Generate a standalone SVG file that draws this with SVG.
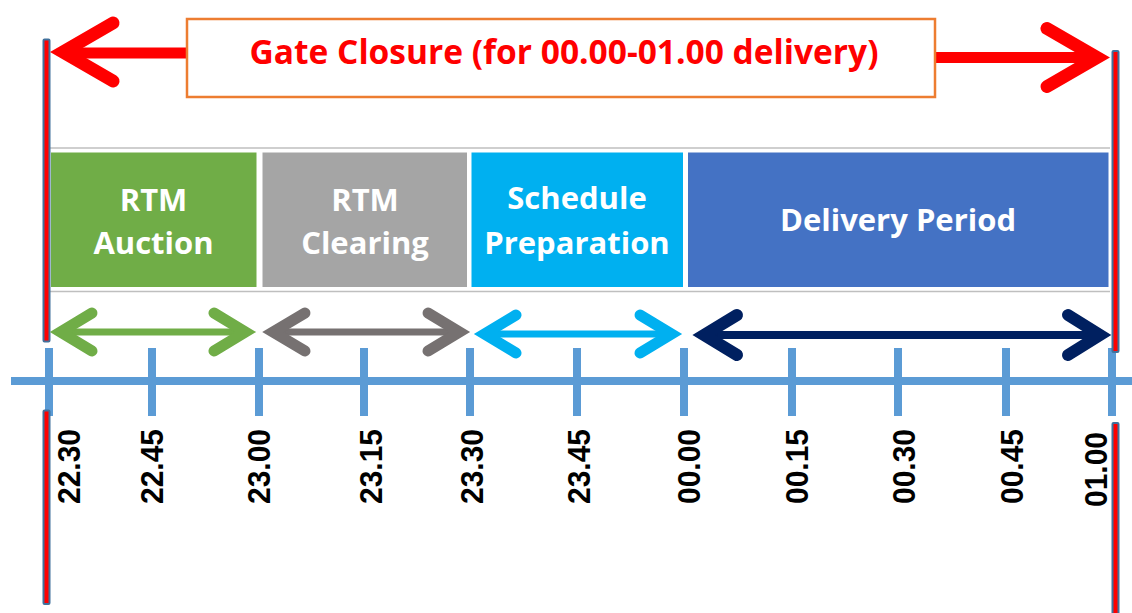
<svg xmlns="http://www.w3.org/2000/svg" width="1132" height="613" viewBox="0 0 1132 613">
  <style>
    .phase { stroke: none; }
    .phase-label { font-family: "Open Sans", "Liberation Sans", sans-serif; font-weight: 700; font-size: 31px; fill: #FFFFFF; text-anchor: middle; }
    .time { font-family: "Liberation Sans", Arial, sans-serif; font-weight: 700; font-size: 32px; fill: #000000; text-anchor: end; }
    .guide { stroke: #BFBFBF; stroke-width: 1.5; }
    .marker-bar { fill: #FF0000; stroke: #41719C; stroke-width: 2; }
    .axis { stroke: #5B9BD5; stroke-width: 8; }
    .head { fill: none; stroke-linejoin: miter; stroke-linecap: round; stroke-miterlimit: 6; }
    .shaft { fill: none; stroke-linecap: butt; }
  </style>

  <rect width="1132" height="613" fill="#FFFFFF"/>

  <!-- thin guide lines framing the phase band -->
  <g id="guides">
    <line class="guide" x1="50" y1="148" x2="1110" y2="148"/>
    <line class="guide" x1="50" y1="291.5" x2="1110" y2="291.5"/>
  </g>

  <!-- phase blocks -->
  <g id="phase-rtm-auction">
    <rect class="phase" x="51" y="152.5" width="205.5" height="134.5" fill="#70AD47"/>
    <text class="phase-label" x="153.5" y="210.5">RTM</text>
    <text class="phase-label" x="153.5" y="253.5">Auction</text>
  </g>
  <g id="phase-rtm-clearing">
    <rect class="phase" x="262.5" y="152.5" width="204.5" height="134.5" fill="#A5A5A5"/>
    <text class="phase-label" x="365" y="210.5">RTM</text>
    <text class="phase-label" x="365" y="253.5">Clearing</text>
  </g>
  <g id="phase-schedule-preparation">
    <rect class="phase" x="471.5" y="152.5" width="211.5" height="134.5" fill="#00B0F0"/>
    <text class="phase-label" x="577" y="209">Schedule</text>
    <text class="phase-label" x="577" y="253.5">Preparation</text>
  </g>
  <g id="phase-delivery-period">
    <rect class="phase" x="688" y="152.5" width="420.5" height="134.5" fill="#4472C4"/>
    <text class="phase-label" x="898" y="231">Delivery Period</text>
  </g>

  <!-- time axis -->
  <g id="time-axis">
    <line class="axis" x1="11" y1="381" x2="1132" y2="381"/>
    <line class="axis" x1="49" y1="348" x2="49" y2="416"/>
    <line class="axis" x1="152" y1="348" x2="152" y2="416"/>
    <line class="axis" x1="259" y1="348" x2="259" y2="416"/>
    <line class="axis" x1="364" y1="348" x2="364" y2="416"/>
    <line class="axis" x1="470" y1="348" x2="470" y2="416"/>
    <line class="axis" x1="577" y1="348" x2="577" y2="416"/>
    <line class="axis" x1="684" y1="348" x2="684" y2="416"/>
    <line class="axis" x1="792" y1="348" x2="792" y2="416"/>
    <line class="axis" x1="898" y1="348" x2="898" y2="416"/>
    <line class="axis" x1="1006" y1="348" x2="1006" y2="416"/>
    <line class="axis" x1="1112" y1="348" x2="1112" y2="416"/>
  </g>

  <!-- time labels, read bottom to top -->
  <g id="time-labels">
    <text class="time" textLength="75" lengthAdjust="spacingAndGlyphs" transform="translate(80 429) rotate(-90)">22.30</text>
    <text class="time" textLength="75" lengthAdjust="spacingAndGlyphs" transform="translate(163 429) rotate(-90)">22.45</text>
    <text class="time" textLength="75" lengthAdjust="spacingAndGlyphs" transform="translate(270 429) rotate(-90)">23.00</text>
    <text class="time" textLength="75" lengthAdjust="spacingAndGlyphs" transform="translate(381.5 429) rotate(-90)">23.15</text>
    <text class="time" textLength="75" lengthAdjust="spacingAndGlyphs" transform="translate(483 429) rotate(-90)">23.30</text>
    <text class="time" textLength="75" lengthAdjust="spacingAndGlyphs" transform="translate(590 429) rotate(-90)">23.45</text>
    <text class="time" textLength="75" lengthAdjust="spacingAndGlyphs" transform="translate(700 429) rotate(-90)">00.00</text>
    <text class="time" textLength="75" lengthAdjust="spacingAndGlyphs" transform="translate(808 429) rotate(-90)">00.15</text>
    <text class="time" textLength="75" lengthAdjust="spacingAndGlyphs" transform="translate(915 429) rotate(-90)">00.30</text>
    <text class="time" textLength="75" lengthAdjust="spacingAndGlyphs" transform="translate(1023 429) rotate(-90)">00.45</text>
    <text class="time" textLength="75" lengthAdjust="spacingAndGlyphs" transform="translate(1107 432) rotate(-90)">01.00</text>
  </g>

  <!-- gate closure boundary bars -->
  <g id="gate-bars">
    <rect class="marker-bar" x="43.5" y="39.5" width="6" height="302" rx="1"/>
    <rect class="marker-bar" x="43.5" y="410.5" width="6" height="193.5" rx="1"/>
    <rect class="marker-bar" x="1112.5" y="51" width="6" height="301" rx="1"/>
    <rect class="marker-bar" x="1112.5" y="423" width="6" height="200" rx="1"/>
  </g>

  <!-- connectors: gate closure span and phase durations -->
  <g id="connectors">
    <!-- gate closure span -->
    <line class="shaft" x1="62" y1="53" x2="190" y2="53" stroke="#FF0000" stroke-width="11"/>
    <polyline class="head" points="113,23 63,52 113,81" stroke="#FF0000" stroke-width="13"/>
    <line class="shaft" x1="932" y1="57.5" x2="1098" y2="57.5" stroke="#FF0000" stroke-width="11"/>
    <polyline class="head" points="1047,28.5 1097,57.5 1047,86.5" stroke="#FF0000" stroke-width="13"/>

    <!-- RTM auction -->
    <line class="shaft" x1="60" y1="332" x2="246" y2="332" stroke="#70AD47" stroke-width="7"/>
    <polyline class="head" points="92,313 60.5,332 92,351" stroke="#70AD47" stroke-width="11"/>
    <polyline class="head" points="214,313 245.5,332 214,351" stroke="#70AD47" stroke-width="11"/>

    <!-- RTM clearing -->
    <line class="shaft" x1="273" y1="332" x2="460" y2="332" stroke="#767171" stroke-width="7"/>
    <polyline class="head" points="305,313 273,332 305,351" stroke="#767171" stroke-width="11"/>
    <polyline class="head" points="428,313 459.5,332 428,351" stroke="#767171" stroke-width="11"/>

    <!-- schedule preparation -->
    <line class="shaft" x1="484" y1="334" x2="671" y2="334" stroke="#00B0F0" stroke-width="7"/>
    <polyline class="head" points="516,315 484.5,334 516,353" stroke="#00B0F0" stroke-width="11"/>
    <polyline class="head" points="640,315 671.5,334 640,353" stroke="#00B0F0" stroke-width="11"/>

    <!-- delivery period -->
    <line class="shaft" x1="703" y1="335" x2="1100" y2="335" stroke="#002060" stroke-width="8"/>
    <polyline class="head" points="737,315 704,335 737,355" stroke="#002060" stroke-width="12"/>
    <polyline class="head" points="1068,315 1100,335 1068,355" stroke="#002060" stroke-width="12"/>
  </g>

  <!-- gate closure caption -->
  <g id="gate-closure">
    <rect x="187" y="19" width="748" height="78" fill="#FFFFFF" stroke="#ED7D31" stroke-width="2.5"/>
    <text x="564" y="64" font-family="'Open Sans', 'Liberation Sans', sans-serif" font-weight="700" font-size="34" fill="#FF0000" text-anchor="middle" textLength="629" lengthAdjust="spacingAndGlyphs">Gate Closure (for 00.00-01.00 delivery)</text>
  </g>
</svg>
